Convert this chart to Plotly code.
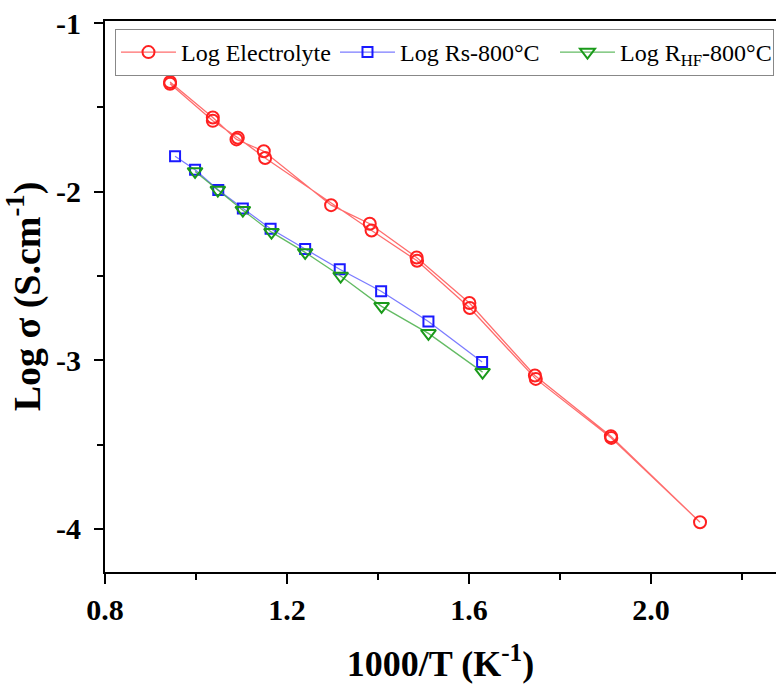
import plotly.graph_objects as go

# Log Electrolyte (two sweeps: out and back)
elec_x = [0.943, 1.037, 1.089, 1.149, 1.297, 1.382, 1.485, 1.601, 1.745, 1.912, 2.108,
          1.913, 1.747, 1.602, 1.486, 1.386, 1.152, 1.092, 1.037, 0.943]
elec_y = [-1.35, -1.56, -1.69, -1.76, -2.08, -2.19, -2.39, -2.66, -3.09, -3.45, -3.96,
          -3.46, -3.11, -2.69, -2.41, -2.23, -1.80, -1.68, -1.58, -1.36]

# Log Rs-800°C
rs_x = [0.954, 0.998, 1.049, 1.103, 1.164, 1.240, 1.316, 1.407, 1.511, 1.629]
rs_y = [-1.79, -1.87, -1.99, -2.10, -2.22, -2.34, -2.46, -2.59, -2.77, -3.01]

# Log R_HF-800°C
hf_x = [0.998, 1.048, 1.103, 1.166, 1.240, 1.318, 1.408, 1.511, 1.630]
hf_y = [-1.88, -1.99, -2.11, -2.24, -2.36, -2.50, -2.68, -2.84, -3.07]

x_ticks = [0.8, 1.2, 1.6, 2.0]
x_labels = ["0.8", "1.2", "1.6", "2.0"]
y_ticks = [-1, -2, -3, -4]
y_labels = ["-1", "-2", "-3", "-4"]

serif = "Liberation Serif"

fig = go.Figure()
fig.add_trace(go.Scatter(
    x=elec_x, y=elec_y, mode="lines+markers", name="Log Electrolyte", legendwidth=149,
    line=dict(color="rgba(255,60,60,0.75)", width=1.3),
    marker=dict(symbol="circle-open", size=12, color="#ff2020", line=dict(width=2))))
fig.add_trace(go.Scatter(
    x=rs_x, y=rs_y, mode="lines+markers", name="Log Rs-800°C", legendwidth=150,
    line=dict(color="rgba(90,90,255,0.8)", width=1.3),
    marker=dict(symbol="square-open", size=10, color="#1a1aff", line=dict(width=2))))
fig.add_trace(go.Scatter(
    x=hf_x, y=hf_y, mode="lines+markers", name="Log R<sub>HF</sub>-800°C", legendwidth=148,
    line=dict(color="rgba(60,170,60,0.8)", width=1.3),
    marker=dict(symbol="triangle-down-open", size=13, color="#1a9a1a", line=dict(width=2))))

fig.update_layout(
    width=776, height=688,
    margin=dict(l=105, r=0, t=21, b=116),
    paper_bgcolor="white", plot_bgcolor="white",
    font=dict(family=serif, color="black"),
    showlegend=True,
    legend=dict(
        orientation="h", x=0.997, y=0.9855, xanchor="right", yanchor="top",
        bordercolor="#888888", borderwidth=1, bgcolor="white",
        font=dict(family=serif, size=24, color="black"),
        itemwidth=55, tracegroupgap=0),
    xaxis=dict(
        range=[0.8, 2.275], showgrid=False, zeroline=False, automargin=False,
        showline=True, linecolor="black", linewidth=2, mirror=True,
        ticks="outside", ticklen=10, tickwidth=2, tickcolor="black",
        tickvals=x_ticks, ticktext=["<b>%s</b>" % t for t in x_labels],
        tickfont=dict(family=serif, size=30, color="black", weight=700),
        minor=dict(tickvals=[1.0, 1.4, 1.8, 2.2], ticks="outside", ticklen=6, tickwidth=2, tickcolor="black"),
        title=dict(text="<b>1000/T (K<sup>-1</sup>)</b>", font=dict(family=serif, size=36, color="black"), standoff=26),
    ),
    yaxis=dict(
        range=[-4.255, -0.988], showgrid=False, zeroline=False, automargin=False,
        showline=True, linecolor="black", linewidth=2,
        ticks="outside", ticklen=9, tickwidth=2, tickcolor="black",
        ticklabelstandoff=7,
        tickvals=y_ticks, ticktext=["<b>%s</b>" % t for t in y_labels],
        tickfont=dict(family=serif, size=30, color="black", weight=700),
        minor=dict(tickvals=[-1.5, -2.5, -3.5], ticks="outside", ticklen=6, tickwidth=2, tickcolor="black"),
        title=dict(text="<b>Log σ (S.cm<sup>-1</sup>)</b>", font=dict(family=serif, size=38, color="black"), standoff=10),
    ),
)

fig.write_html("out.html", config={"displayModeBar": False},
               post_script="document.body.style.margin='0';document.body.style.padding='0';")
